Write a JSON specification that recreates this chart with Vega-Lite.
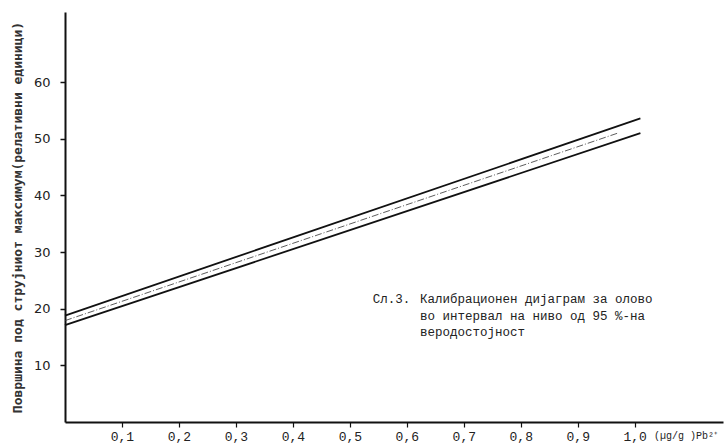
{
  "$schema": "https://vega.github.io/schema/vega-lite/v6.json",
  "width": 658,
  "height": 410,
  "autosize": {"type": "none"},
  "padding": {"left": 65, "top": 12, "right": 2, "bottom": 25},
  "background": "white",
  "config": {"view": {"stroke": null}},
  "datasets": {
    "lines": [
      {"series": "upper", "x": 0, "y": 18.8},
      {"series": "upper", "x": 1.01, "y": 53.6},
      {"series": "middle", "x": 0, "y": 17.9},
      {"series": "middle", "x": 0.97, "y": 51.0},
      {"series": "lower", "x": 0, "y": 17.1},
      {"series": "lower", "x": 1.01, "y": 51.0}
    ],
    "one": [{"k": 1}]
  },
  "layer": [
    {
      "data": {"name": "lines"},
      "transform": [{"filter": "datum.series !== 'middle'"}],
      "mark": {"type": "line", "color": "#111", "strokeWidth": 1.8},
      "encoding": {
        "x": {
          "field": "x", "type": "quantitative",
          "scale": {"domain": [0, 1.155], "nice": false, "zero": false},
          "axis": {
            "values": [0.1, 0.2, 0.3, 0.4, 0.5, 0.6, 0.7, 0.8, 0.9, 1.0],
            "labelExpr": "replace(format(datum.value, '.1f'), '.', ',')",
            "title": null, "grid": false,
            "domainColor": "#111", "domainWidth": 1.8,
            "tickColor": "#111", "tickWidth": 1.2, "tickSize": 5,
            "labelFont": "Liberation Mono", "labelFontSize": 13, "labelColor": "#222",
            "labelPadding": 3
          }
        },
        "y": {
          "field": "y", "type": "quantitative",
          "scale": {"domain": [0, 72.4], "nice": false},
          "axis": {
            "values": [10, 20, 30, 40, 50, 60],
            "title": "Површина под струјниот максимум(релативни единици)",
            "titleFont": "DejaVu Sans Mono", "titleFontSize": 13, "titleFontWeight": "bold",
            "titleColor": "#333", "titlePadding": 9,
            "grid": false,
            "domainColor": "#111", "domainWidth": 2,
            "tickColor": "#111", "tickWidth": 1.5, "tickSize": 5,
            "labelFont": "DejaVu Sans", "labelFontSize": 13, "labelColor": "#222",
            "labelPadding": 10
          }
        },
        "detail": {"field": "series"}
      }
    },
    {
      "data": {"name": "lines"},
      "transform": [{"filter": "datum.series === 'middle'"}],
      "mark": {"type": "line", "color": "#333", "strokeWidth": 0.8, "strokeDash": [7, 2, 1, 2]},
      "encoding": {
        "x": {"field": "x", "type": "quantitative"},
        "y": {"field": "y", "type": "quantitative"}
      }
    },
    {
      "data": {"name": "one"},
      "mark": {"type": "text", "text": "Сл.3.", "align": "left", "baseline": "alphabetic", "font": "Liberation Mono", "fontSize": 12.5, "color": "#222"},
      "encoding": {
        "x": {"datum": 0.54, "type": "quantitative"},
        "y": {"datum": 21.0, "type": "quantitative"}
      }
    },
    {
      "data": {"name": "one"},
      "mark": {"type": "text", "text": ["Калибрационен дијаграм за олово", "во интервал на ниво од 95 %-на", "веродостојност"], "align": "left", "baseline": "alphabetic", "lineHeight": 16.5, "font": "Liberation Mono", "fontSize": 12.5, "color": "#222"},
      "encoding": {
        "x": {"datum": 0.623, "type": "quantitative"},
        "y": {"datum": 21.0, "type": "quantitative"}
      }
    },
    {
      "data": {"name": "one"},
      "mark": {"type": "text", "text": "(µg/g )Pb²⁺", "align": "left", "baseline": "alphabetic", "font": "Liberation Mono", "fontSize": 10, "color": "#222"},
      "encoding": {
        "x": {"datum": 1.034, "type": "quantitative"},
        "y": {"datum": -3.0, "type": "quantitative"}
      }
    }
  ]
}
